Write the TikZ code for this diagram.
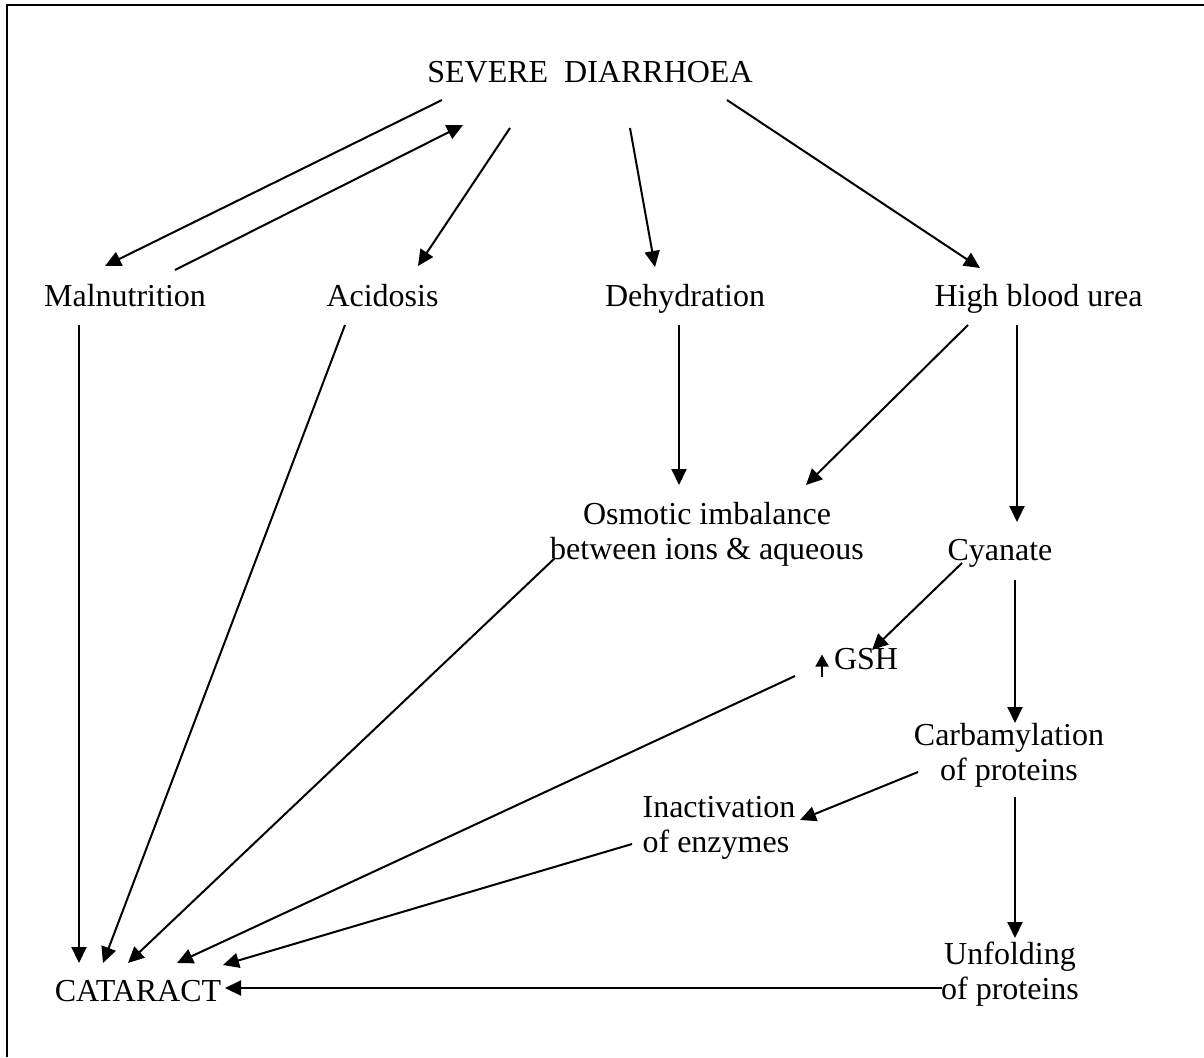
\documentclass[tikz,border=0pt]{standalone}
\usepackage{fontspec}
\setmainfont{Liberation Serif}
\usetikzlibrary{arrows.meta,calc}
\begin{document}
\begin{tikzpicture}[x=1pt,y=-1pt,
  every node/.style={inner sep=0pt, font=\fontsize{32}{35}\selectfont},
  lbl/.style={text height=22pt, text depth=7pt},
  two/.style={align=center},
  conn/.style={line width=2pt, -{Triangle[length=16pt,width=15pt]}},
  frameline/.style={line width=2.4pt}]
\useasboundingbox (0,0) rectangle (1204,1057);
% frame on top and left edges
\draw[frameline] (7,1057) -- (7,5) -- (1204,5);

% nodes
\node[lbl] (sd)    at (590,74.5)  {SEVERE\ \ DIARRHOEA};
\node[lbl] (mal)   at (125,298.5) {Malnutrition};
\node[lbl] (aci)   at (382.5,298.5) {Acidosis};
\node[lbl] (dehy)  at (685,298.5) {Dehydration};
\node[lbl] (hbu)   at (1038.5,298.5) {High blood urea};
\node[two] (osm)   at (707,534)   {Osmotic imbalance\\between ions \& aqueous};
\node[lbl] (cyan)  at (1000,552.5) {Cyanate};
\node[lbl] (gsh)   at (866,661.5) {GSH};
\node[two] (carb)  at (1009,755)  {Carbamylation\\of proteins};
\node[align=left] (inact) at (719,828) {Inactivation\\of enzymes};
\node[two] (unf)   at (1010,974)  {Unfolding\\of proteins};
\node[lbl] (cat)   at (138,993.5) {CATARACT};

% connectors
\draw[conn] ($(sd)+(-148,25.5)$) -- ($(mal)+(-20,-32.5)$);
\draw[conn] ($(mal)+(50,-28.5)$) -- ($(sd)+(-127,50.5)$);
\draw[conn] ($(sd)+(-80,53.5)$) -- ($(aci)+(35.5,-32.5)$);
\draw[conn] ($(sd)+(40,53.5)$) -- ($(dehy)+(-30,-31.5)$);
\draw[conn] ($(sd)+(137,25.5)$) -- ($(hbu)+(-58.5,-30.5)$);
\draw[conn] ($(mal)+(-46,26.5)$) -- ($(cat)+(-59,-30.5)$);
\draw[conn] ($(aci)+(-37.5,26.5)$) -- ($(cat)+(-35,-30.5)$);
\draw[conn] ($(dehy)+(-6,26.5)$) -- ($(osm)+(-28,-49)$);
\draw[conn] ($(hbu)+(-70.5,26.5)$) -- ($(osm)+(99,-49)$);
\draw[conn] ($(hbu)+(-21.5,26.5)$) -- ($(cyan)+(17,-30.5)$);
\draw[conn] ($(osm)+(-152,24)$) -- ($(cat)+(-10,-30.5)$);
\draw[conn] ($(cyan)+(-38,10.5)$) -- ($(gsh)+(6,-11.5)$);
\draw[conn] ($(gsh)+(-71,14.5)$) -- ($(cat)+(39,-30.5)$);
\draw[conn] ($(carb)+(-91,17)$) -- ($(inact)+(81,-8)$);
\draw[conn] ($(inact)+(-87,16)$) -- ($(cat)+(85,-28.5)$);
\draw[conn] ($(cyan)+(15,27.5)$) -- ($(carb)+(6,-32)$);
\draw[conn] ($(carb)+(6,42)$) -- ($(unf)+(5,-36)$);
\draw[conn] ($(unf)+(-68,14)$) -- ($(cat)+(87,-5.5)$);

% small up arrow before GSH
\draw[line width=1.8pt, -{Triangle[length=12pt,width=13pt]}] ($(gsh)+(-44,15.5)$) -- ($(gsh)+(-44,-7)$);
\end{tikzpicture}
\end{document}
